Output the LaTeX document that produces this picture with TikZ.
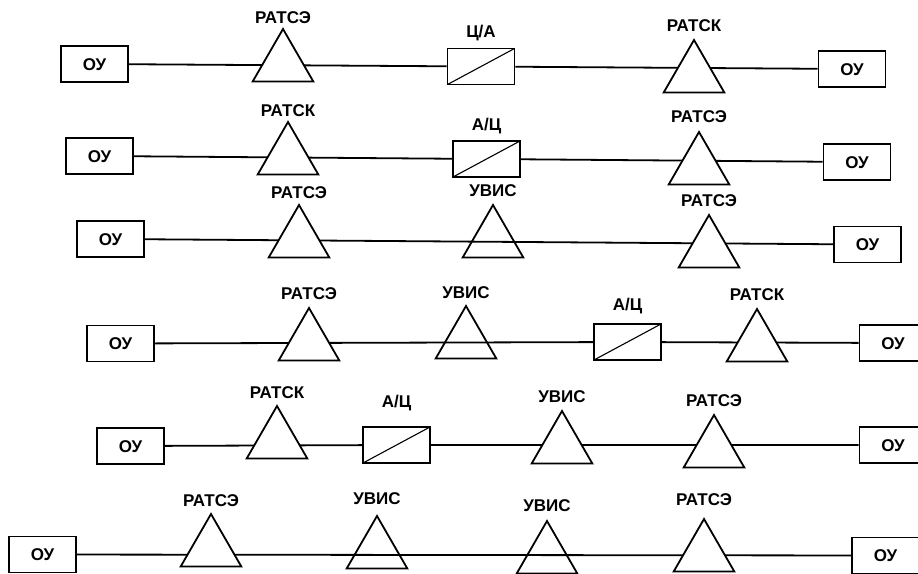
\documentclass[tikz,border=0pt]{standalone}
\usepackage{fontspec}
\setmainfont{Liberation Sans}
\usetikzlibrary{positioning, shapes.geometric}

\begin{document}
\begin{tikzpicture}
[x=1pt, y=-1pt, line width=1.8pt, font=\fontsize{17}{20}\selectfont\bfseries,
every node/.style={inner sep=0pt, text height=12pt, text depth=0pt},
ou/.style={draw, rectangle, minimum width=67pt, minimum height=36pt, fill=white},
conv/.style={ou, path picture={\draw[line width=1.1pt] (path picture bounding box.south west) -- (path picture bounding box.north east);}},
amp/.style={draw, regular polygon, regular polygon sides=3, minimum size=70pt, fill=white},
thru/.style={amp, fill=none}
]

\useasboundingbox (0,0) rectangle (918,573);
\clip (0,0) rectangle (918,573);

% end boxes and converters
\path
node[ou] (o1a) at (94.5,64) {ОУ}
node[conv] (c1) at (481,66.5) {}
node[ou] (o1b) at (852,69) {ОУ}
node[ou] (o2a) at (99.5,156) {ОУ}
node[conv] (c2) at (486.5,159) {}
node[ou] (o2b) at (857,162) {ОУ}
node[ou] (o3a) at (110.5,239) {ОУ}
node[ou] (o3b) at (867.5,244.5) {ОУ}
node[ou] (o4a) at (120.5,343.5) {ОУ}
node[conv] (c4) at (627.5,342) {}
node[ou] (o4b) at (893,343) {ОУ}
node[ou] (o5a) at (130.5,446) {ОУ}
node[conv] (c5) at (396.5,445) {}
node[ou] (o5b) at (893,445) {ОУ}
node[ou] (o6a) at (42.5,554.5) {ОУ}
node[ou] (o6b) at (885.5,555.5) {ОУ}
;

% lines
\draw (o1a) -- (c1) -- (o1b) ;
\draw (o2a) -- (c2) -- (o2b) ;
\draw (o3a) -- (o3b) ;
\draw (o4a) -- (c4) -- (o4b) ;
\draw (o5a) -- (c5) -- (o5b) ;
\draw (o6a) -- (o6b) ;

% amplifiers
\path
node[amp] (t1a) at (283,64) {}
node[amp] (t1b) at (694,75) {}
node[amp] (t2a) at (288,157) {}
node[amp] (t2b) at (699,167) {}
node[amp] (t3a) at (299,240) {}
node[thru] (t3b) at (493,240) {}
node[amp] (t3c) at (709,250) {}
node[amp] (t4a) at (309,343) {}
node[thru] (t4b) at (466,341) {}
node[amp] (t4c) at (757,344) {}
node[amp] (t5a) at (277,441) {}
node[amp] (t5b) at (562,446) {}
node[amp] (t5c) at (714,450) {}
node[amp] (t6a) at (211,549) {}
node[thru] (t6b) at (377,551) {}
node[thru] (t6c) at (547,556) {}
node[amp] (t6d) at (704,554) {}
;

% labels
\foreach \n/\t/\d in {t1a/РАТСЭ/3, t1b/РАТСК/5.5, t2a/РАТСК/3, t2b/РАТСЭ/6.5,
  t3a/РАТСЭ/3.5, t3b/УВИС/5.5, t3c/РАТСЭ/5.5, t4a/РАТСЭ/5.5, t4b/УВИС/4.5,
  t4c/РАТСК/5.5, t5a/РАТСК/4.5, t5b/УВИС/5.5, t5c/РАТСЭ/5.5, t6a/РАТСЭ/4.5,
  t6b/УВИС/8.5, t6c/УВИС/6.5, t6d/РАТСЭ/10.5}
  \node[above=\d pt of \n] (l\n) {\t};

\node[above=9pt of c1] (lc1) {Ц/А};
\node[above=9pt of c2] (lc2) {А/Ц};
\node[above=12pt of c4] (lc4) {А/Ц};
\node[above=18pt of c5] (lc5) {А/Ц};

\end{tikzpicture}
\end{document}
